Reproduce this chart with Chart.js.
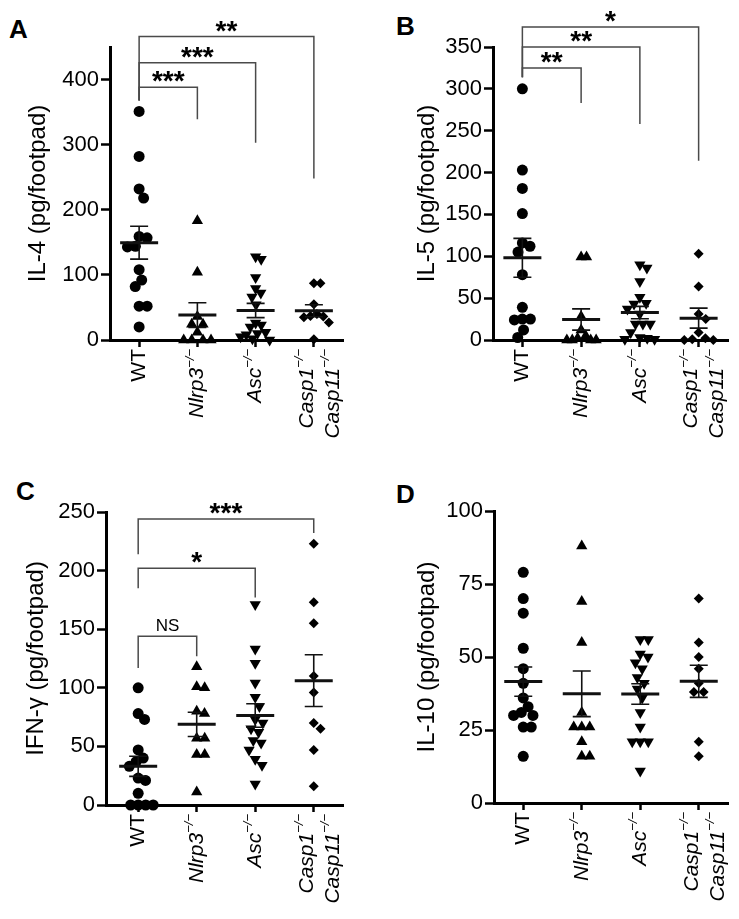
<!DOCTYPE html>
<html>
<head>
<meta charset="utf-8">
<script src="https://cdn.jsdelivr.net/npm/chart.js@4.4.0/dist/chart.umd.min.js"></script>
<style>
  body{margin:0;background:#fff;width:739px;height:919px;position:relative;overflow:hidden;font-family:"Liberation Sans",Arial,sans-serif}
  canvas{position:absolute}
  .letter{position:absolute;font-weight:bold;font-size:26px;line-height:1;color:#000}
</style>
</head>
<body>
<div class="letter" style="left:9px;top:16px">A</div>
<div class="letter" style="left:396px;top:13px">B</div>
<div class="letter" style="left:16px;top:478px">C</div>
<div class="letter" style="left:396px;top:481px">D</div>
<canvas id="cA" width="370" height="460" style="left:0;top:0"></canvas>
<canvas id="cB" width="369" height="460" style="left:370px;top:0"></canvas>
<canvas id="cC" width="370" height="459" style="left:0;top:460px"></canvas>
<canvas id="cD" width="369" height="459" style="left:370px;top:460px"></canvas>
<script>
'use strict';
const FAM = '"Liberation Sans", Arial, sans-serif';

// groups on the x axis: WT, Nlrp3-/-, Asc-/-, Casp1-/-Casp11-/-
const xLabelLines = [[['WT','']], [['Nlrp3','\u2212/\u2212']], [['Asc','\u2212/\u2212']], [['Casp1','\u2212/\u2212'],['Casp11','\u2212/\u2212']]];

// A: IL-4
const il4WT    = [351,282,232,218,159,157,144,143,108,92,82,52,52,20];
const il4Nlrp3 = [183,104,36,24,24,12,0,0,0,0];
const il4Asc   = [128,124,96,79,72,66,54,26,23,20,12,10,8,5,2,0];
const il4Casp  = [87,87,55,40,37,36,35,27,1];
const il4Ticks = [0,100,200,300,400];
// [from group, to group, bar value, left leg end, right leg end, label]
const il4Brackets = [[0,1,388,368,339,'***'],[0,2,426,368,303,'***'],[0,3,466,368,248,'**']];

// B: IL-5
const il5WT    = [300,203,181,151,116,112,105,78,39,25,25,24,12,3];
const il5Nlrp3 = [99,99,28,12,5,2,0,0,0,0];
const il5Asc   = [90,86,70,51,44,43,37,31,19,19,19,9,3,2,1,1];
const il5Casp  = [103,64,31,25,9,2,1,0,0];
const il5Ticks = [0,50,100,150,200,250,300,350];
const il5Brackets = [[0,1,325,314,283,'**'],[0,2,350,314,258,'**'],[0,3,374,314,214,'*']];

// C: IFN-gamma
const ifnWT    = [100,78,73,47,40,37,33,23,21,10,0,0,0,0];
const ifnNlrp3 = [118,101,100,80,78,57,57,43,43,11];
const ifnAsc   = [171,133,121,104,92,84,73,70,65,62,55,53,47,39,34,18];
const ifnCasp  = [223,173,155,110,96,70,65,47,16];
const ifnTicks = [0,50,100,150,200,250];
const ifnBrackets = [[0,1,144,117,127,'NS'],[0,2,202,185,177,'*'],[0,3,244,214,232,'***']];

// D: IL-10
const il10WT    = [79,70,65,53,46,41,36,33,31,30,30,26,26,16];
const il10Nlrp3 = [88,69,55,31,26,26,26,21,16,16];
const il10Asc   = [56,56,51,50,48,46,43,41,39,36,31,26,21,21,21,11];
const il10Casp  = [70,55,50,46,41,38,38,21,16];
const il10Ticks = [0,25,50,75,100];

const marks = [
  {style:'circle', rot:0, r:5.5},
  {style:'triangle', rot:0, r:6.5},
  {style:'triangle', rot:180, r:6.5},
  {style:'rectRot', rot:0, r:5}
];

Chart.defaults.font.family = FAM;
Chart.defaults.color = '#000';

function meanSem(vals){
  const n = vals.length, m = vals.reduce((a,b)=>a+b,0)/n;
  const sd = Math.sqrt(vals.reduce((a,b)=>a+(b-m)*(b-m),0)/(n-1));
  return [m, sd/Math.sqrt(n)];
}

// beeswarm with an elliptical footprint, then squeezed so a column stays within maxW of its centre
function swarm(vals, yPix, Dx, Dy, maxW){
  const order = vals.map((v,i)=>i).sort((a,b)=>vals[b]-vals[a]);
  const placed = [], off = [];
  for(const i of order){
    const y = yPix(vals[i]);
    const cands = [0];
    placed.forEach(p=>{
      const dy = Math.abs(p.y-y);
      if(dy<Dy){ const dx=Dx*Math.sqrt(1-(dy/Dy)**2)+0.01; cands.push(p.x+dx, p.x-dx); }
    });
    cands.sort((a,b)=>Math.abs(a)-Math.abs(b));
    let best = 0;
    for(const c of cands){
      if(placed.every(p=>((p.x-c)/Dx)**2+((p.y-y)/Dy)**2 >= 0.999)){ best=c; break; }
    }
    placed.push({x:best,y}); off[i]=best;
  }
  const widest = Math.max(...off.map(Math.abs));
  const k = widest>maxW ? maxW/widest : 1;
  return off.map(v=>v*k);
}

const decor = {
  id:'decor',
  afterDatasetsDraw(chart, args, opts){
    const {ctx} = chart, xs = chart.scales.x, ys = chart.scales.y;
    ctx.save();
    // mean +/- SEM
    opts.series.forEach((vals,g)=>{
      const [m,se] = meanSem(vals);
      const cx = xs.getPixelForValue(g);
      const y0 = ys.getPixelForValue(m-se), y1 = ys.getPixelForValue(m+se), ym = ys.getPixelForValue(m);
      ctx.strokeStyle = '#111';
      ctx.lineWidth = 1.6;
      ctx.beginPath();
      ctx.moveTo(cx,y0); ctx.lineTo(cx,y1);
      ctx.moveTo(cx-9,y0); ctx.lineTo(cx+9,y0);
      ctx.moveTo(cx-9,y1); ctx.lineTo(cx+9,y1);
      ctx.stroke();
      ctx.lineWidth = 3;
      ctx.beginPath(); ctx.moveTo(cx-19,ym); ctx.lineTo(cx+19,ym); ctx.stroke();
    });
    // significance brackets
    (opts.brackets||[]).forEach(([a,b,yb,la,lb,txt])=>{
      const x1 = xs.getPixelForValue(a), x2 = xs.getPixelForValue(b), y = ys.getPixelForValue(yb);
      ctx.strokeStyle = '#4a4a4a'; ctx.lineWidth = 1.5;
      ctx.beginPath();
      ctx.moveTo(x1, ys.getPixelForValue(la)); ctx.lineTo(x1,y); ctx.lineTo(x2,y); ctx.lineTo(x2, ys.getPixelForValue(lb));
      ctx.stroke();
      ctx.font = txt==='NS' ? '17px '+FAM : 'bold 28px '+FAM;
      ctx.fillStyle = '#000'; ctx.textAlign='center'; ctx.textBaseline='alphabetic';
      const mt = ctx.measureText(txt);
      ctx.fillText(txt, (x1+x2)/2, y-5-mt.actualBoundingBoxDescent);
    });
    // rotated group labels
    const base = chart.chartArea.bottom + 9;
    xLabelLines.forEach((lines,g)=>{
      const cx = xs.getPixelForValue(g);
      const offs = lines.length===1 ? [0] : [-7,19];
      lines.forEach(([main,sup],k)=>{
        ctx.save();
        ctx.translate(cx+offs[k], base);
        ctx.rotate(-Math.PI/2);
        ctx.fillStyle = '#000'; ctx.textAlign='left'; ctx.textBaseline='middle';
        const mf = (sup?'italic ':'')+'21px '+FAM, sf = 'italic 13px '+FAM;
        ctx.font = sf; const sw = sup ? ctx.measureText(sup).width : 0;
        ctx.font = mf; const mw = ctx.measureText(main).width;
        ctx.fillText(main, -(mw+sw), 0);
        if(sup){ ctx.font = sf; ctx.fillText(sup, -sw, -7); }
        ctx.restore();
      });
    });
    ctx.restore();
  }
};

function panel(id, o){
  const axisLine = {display:true, color:'#000', width:3};
  const chart = new Chart(document.getElementById(id), {
    type:'scatter',
    data:{datasets: o.series.map((vals,g)=>({
      data: vals.map(v=>({x:g, y:v})),
      pointStyle: marks[g].style, rotation: marks[g].rot,
      pointRadius: marks[g].r, pointHoverRadius: marks[g].r,
      backgroundColor:'#000', borderColor:'#000', borderWidth:0, clip:false
    }))},
    options:{
      responsive:false, animation:false, events:[],
      layout:{padding:{left:0, top:o.area.t, right:o.w-o.area.r, bottom:0}},
      plugins:{legend:{display:false}, tooltip:{enabled:false},
               decor:{series:o.series, brackets:o.brackets}},
      scales:{
        x:{type:'linear', min:o.xmin, max:3.5,
           afterBuildTicks: s=>{ s.ticks=[0,1,2,3].map(v=>({value:v})); },
           afterFit: s=>{ s.height = o.h-o.area.b; },
           ticks:{display:false},
           grid:{drawOnChartArea:false, drawTicks:true, tickLength:7, tickWidth:2.5, tickColor:'#000'},
           border:axisLine},
        y:{min:0, max:o.ymax,
           afterBuildTicks: s=>{ s.ticks=o.ticks.map(v=>({value:v})); },
           afterFit: s=>{ s.width = o.area.l; },
           ticks:{color:'#000', font:{size:22}, padding:2, autoSkip:false},
           grid:{drawOnChartArea:false, drawTicks:true, tickLength:9, tickWidth:2.5, tickColor:'#000'},
           border:axisLine,
           title:{display:true, text:o.title, color:'#000', font:{size:24}, padding:{top:o.titleCx-14.4, bottom:0}}}
      }
    },
    plugins:[decor]
  });
  const ys = chart.scales.y, xs = chart.scales.x;
  const pxPerCat = xs.getPixelForValue(1)-xs.getPixelForValue(0);
  chart.data.datasets.forEach((ds,g)=>{
    const off = swarm(o.series[g], v=>ys.getPixelForValue(v), 8, 11, 15);
    ds.data = o.series[g].map((v,i)=>({x:g+off[i]/pxPerCat, y:v}));
  });
  chart.update();
  return chart;
}

panel('cA', {w:370, h:460, area:{l:110, r:343, t:47, b:340}, xmin:-0.5, ymax:450, ticks:il4Ticks,
  title:'IL-4 (pg/footpad)', titleCx:38, series:[il4WT,il4Nlrp3,il4Asc,il4Casp], brackets:il4Brackets});
panel('cB', {w:369, h:460, area:{l:123, r:358, t:47, b:340}, xmin:-0.5, ymax:350, ticks:il5Ticks,
  title:'IL-5 (pg/footpad)', titleCx:57.5, series:[il5WT,il5Nlrp3,il5Asc,il5Casp], brackets:il5Brackets});
panel('cC', {w:370, h:459, area:{l:106, r:343, t:52, b:345}, xmin:-0.55, ymax:250, ticks:ifnTicks,
  title:'IFN-\u03b3 (pg/footpad)', titleCx:36, series:[ifnWT,ifnNlrp3,ifnAsc,ifnCasp], brackets:ifnBrackets});
panel('cD', {w:369, h:459, area:{l:124, r:358, t:51, b:343}, xmin:-0.5, ymax:100, ticks:il10Ticks,
  title:'IL-10 (pg/footpad)', titleCx:57.5, series:[il10WT,il10Nlrp3,il10Asc,il10Casp], brackets:[]});
</script>
</body>
</html>
